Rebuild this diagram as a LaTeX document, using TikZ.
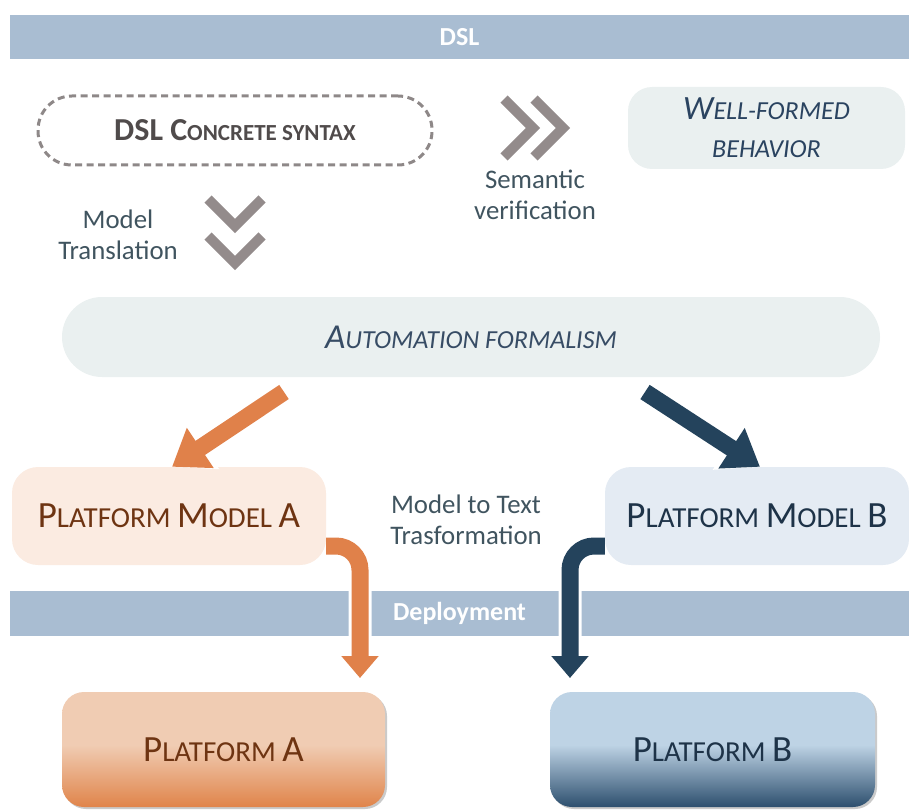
\documentclass[tikz,border=0pt]{standalone}
\usepackage{fontspec}
\setmainfont{Carlito}
\usetikzlibrary{arrows.meta,shadows}

\definecolor{barblue}{HTML}{A9BDD2}
\definecolor{chevgray}{HTML}{938B8B}
\definecolor{dashgray}{HTML}{8E8888}
\definecolor{softbox}{HTML}{EAF0F0}
\definecolor{sidetext}{HTML}{40545F}
\definecolor{darkgray}{HTML}{504B4B}
\definecolor{inkblue}{HTML}{2A4360}
\definecolor{orangeA}{HTML}{E0814A}
\definecolor{navyB}{HTML}{24435C}
\definecolor{paleA}{HTML}{FBEBE1}
\definecolor{paleB}{HTML}{E4EBF3}
\definecolor{brownA}{HTML}{6E3412}
\definecolor{inkB}{HTML}{1E3348}
\definecolor{topA}{HTML}{F0CCB3}
\definecolor{botA}{HTML}{E0844A}
\definecolor{topB}{HTML}{BED3E5}
\definecolor{botB}{HTML}{2D4F6E}

% vertical fills for the two platform boxes (path covers 25bp..75bp)
\pgfdeclareverticalshading{platAshade}{100bp}{color(0bp)=(botA); color(25bp)=(botA); color(52bp)=(topA); color(75bp)=(topA); color(100bp)=(topA)}
\pgfdeclareverticalshading{platBshade}{100bp}{color(0bp)=(botB); color(25bp)=(botB); color(52bp)=(topB); color(75bp)=(topB); color(100bp)=(topB)}

% hand-made small capitals: \capw{Capitals}{lowered letters}
\def\bigsz{28}\def\smsz{20}
\newcommand\capw[2]{{\fontsize{\bigsz}{\bigsz}\selectfont #1}{\fontsize{\smsz}{\smsz}\selectfont #2}}

\begin{document}
\begin{tikzpicture}[x=1pt,y=-1pt,
  bandbox/.style={fill=barblue, minimum width=899pt, inner sep=0pt, text=white,
    font=\bfseries\fontsize{26}{28}\selectfont},
  softround/.style={fill=softbox, inner sep=0pt, align=center},
  sidenote/.style={text=sidetext, align=center, inner sep=0pt,
    font=\fontsize{26.8}{31}\selectfont},
  chevron/.style={draw=chevgray, line width=10pt, miter limit=10},
  diagarrow/.style={line width=17pt, -{Triangle[length=34pt,width=46pt]},
    preaction={draw=white, line width=22pt, -{Triangle[length=38pt,width=54pt]}}},
  bentarrow/.style={line width=17pt, rounded corners=24pt, -{Triangle[length=22pt,width=36pt]},
    preaction={draw=white, line width=23pt, -{Triangle[length=25pt,width=44pt]}}},
  platbox/.style={minimum width=323pt, minimum height=115pt, rounded corners=22pt, inner sep=0pt,
    drop shadow={shadow xshift=2pt, shadow yshift=-2pt, opacity=0.35, fill=black!60}},
]
\useasboundingbox (0,0) rectangle (909,810);

% top band
\node[bandbox, minimum height=44pt] (dslbar) at (459.5,37) {DSL};

% concrete syntax (dashed capsule)
\node[draw=dashgray, line width=3pt, dash pattern=on 7pt off 4.5pt, rounded corners=34pt,
  minimum width=394pt, minimum height=69pt, inner sep=0pt, text=darkgray,
  font={\bfseries\def\bigsz{32}\def\smsz{23}}] (concrete) at (235,130.5)
  {\capw{DSL C}{ONCRETE SYNTAX}};

% well-formed behaviour
\node[softround, rounded corners=24pt, minimum width=277pt, minimum height=82pt, text=inkblue,
  font={\itshape\fontsize{26}{38}\selectfont\def\bigsz{34}\def\smsz{26}}] (wellformed) at (766.5,128)
  {\capw{W}{ELL-FORMED}\\\capw{}{BEHAVIOR}};

% automation formalism
\node[softround, rounded corners=40pt, minimum width=818pt, minimum height=80pt, text=inkblue!85!gray,
  font={\itshape\def\bigsz{35}\def\smsz{26}}] (automation) at (471,337)
  {\capw{A}{UTOMATION FORMALISM}};

% side notes
\node[sidenote] (semlabel) at (535,195) {Semantic\\verification};
\node[sidenote] (translabel) at (118,235) {Model\\Translation};
\node[sidenote] (m2tlabel) at (466,520) {Model to Text\\Trasformation};

% chevrons: semantic verification (pointing right)
\draw[chevron] (504,99) -- (533,128) -- (504,157);
\draw[chevron] (534,99) -- (563,128) -- (534,157);
% chevrons: model translation (pointing down)
\draw[chevron] (208,199) -- (235,226) -- (262,199);
\draw[chevron] (208,236) -- (235,263) -- (262,236);

% platform models
\node[fill=paleA, rounded corners=26pt, minimum width=314pt, minimum height=98pt, inner sep=0pt,
  text=brownA, font={\def\bigsz{37}\def\smsz{29}}] (pmA) at (169,516)
  {\capw{P}{LATFORM }\capw{M}{ODEL }\capw{A}{}};
\node[fill=paleB, rounded corners=26pt, minimum width=304pt, minimum height=98pt, inner sep=0pt,
  text=inkB, font={\def\bigsz{37}\def\smsz{29}}] (pmB) at (757,516)
  {\capw{P}{LATFORM }\capw{M}{ODEL }\capw{B}{}};

% deployment band
\node[bandbox, minimum height=45pt] (deploybar) at (459.5,613.5) {Deployment};

% platforms
\node[platbox, shading=platAshade, text=brownA, font={\def\bigsz{37}\def\smsz{29}}] (platA)
  at (223.5,749.5) {\capw{P}{LATFORM }\capw{A}{}};
\node[platbox, shading=platBshade, minimum width=325pt, text=inkB, font={\def\bigsz{37}\def\smsz{29}}] (platB)
  at (712.5,749.5) {\capw{P}{LATFORM }\capw{B}{}};

% connectors
\coordinate (oa) at (284,392);
\coordinate (ob) at (645,392);
\coordinate (ta) at (360,678);
\coordinate (tb) at (570,678);
\draw[diagarrow, orangeA] (oa) -- ([xshift=3pt]pmA.north);
\draw[diagarrow, navyB] (ob) -- ([xshift=3pt]pmB.north);
\draw[bentarrow, orangeA] ([yshift=-30pt]pmA.east) -| (ta);
\draw[bentarrow, navyB] ([yshift=-30pt]pmB.west) -| (tb);
\end{tikzpicture}
\end{document}
